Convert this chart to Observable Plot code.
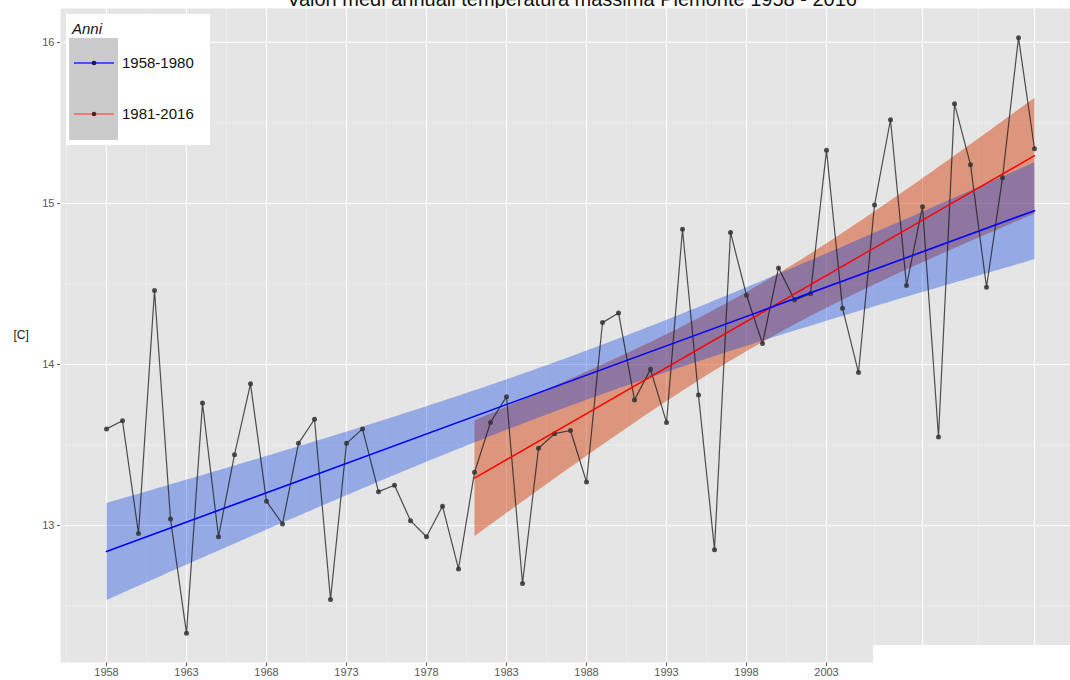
<!DOCTYPE html>
<html>
<head>
<meta charset="utf-8">
<script src="https://cdn.jsdelivr.net/npm/d3@7"></script>
<script src="https://cdn.jsdelivr.net/npm/@observablehq/plot@0.6"></script>
<style>
  html, body { margin: 0; padding: 0; background: #fff; overflow: hidden; }
  #wrap { position: relative; width: 1070px; height: 680px; font-family: "Liberation Sans", Arial, sans-serif; }
  #title { height: 8px; overflow: hidden; position: relative; }
  #title span { position: absolute; top: -11px; left: 0; width: 1144px; text-align: center; font-size: 20px; line-height: 20px; color: #111; white-space: nowrap; }
  #legend { position: absolute; left: 66px; top: 14px; width: 144px; height: 131px; background: #fff; }
  #legend .ttl { position: absolute; left: 6px; top: 6px; font-size: 15px; font-style: italic; color: #111; }
  #legend .keybg { position: absolute; left: 3px; top: 24px; width: 49px; height: 102px; background: #cbcbcb; }
  #legend .lab { position: absolute; left: 56px; font-size: 15px; color: #111; line-height: 16px; }
  #cover { position: absolute; left: 873px; top: 645px; width: 197px; height: 35px; background: #fff; }
</style>
</head>
<body>
<div id="wrap">
  <div id="title"><span>Valori medi annuali temperatura massima  Piemonte 1958 - 2016</span></div>
  <div id="chart"></div>
  <div id="legend">
    <div class="ttl">Anni</div>
    <div class="keybg"></div>
    <svg width="144" height="131" style="position:absolute;left:0;top:0">
      <line x1="8" x2="48" y1="49" y2="49" stroke="#4d4dff" stroke-width="2"/>
      <circle cx="28" cy="49" r="2.3" fill="#1a1a55"/>
      <line x1="8" x2="48" y1="100" y2="100" stroke="#f07878" stroke-width="2"/>
      <circle cx="28" cy="100" r="2.3" fill="#552222"/>
    </svg>
    <div class="lab" style="top:41px">1958-1980</div>
    <div class="lab" style="top:92px">1981-2016</div>
  </div>
  <div id="cover"></div>
</div>
<script>
// ---- data ----
const years = [1958,1959,1960,1961,1962,1963,1964,1965,1966,1967,1968,1969,1970,1971,1972,1973,1974,1975,1976,1977,1978,1979,1980,
  1981,1982,1983,1984,1985,1986,1987,1988,1989,1990,1991,1992,1993,1994,1995,1996,1997,1998,1999,2000,2001,2002,2003,2004,2005,2006,2007,2008,2009,2010,2011,2012,2013,2014,2015,2016];
const temps = [13.60,13.65,12.95,14.46,13.04,12.33,13.76,12.93,13.44,13.88,13.15,13.01,13.51,13.66,12.54,13.51,13.60,13.21,13.25,13.03,12.93,13.12,12.73,
  13.33,13.64,13.80,12.64,13.48,13.57,13.59,13.27,14.26,14.32,13.78,13.97,13.64,14.84,13.81,12.85,14.82,14.43,14.13,14.60,14.40,14.44,15.33,14.35,13.95,14.99,15.52,14.49,14.98,13.55,15.62,15.24,14.48,15.16,16.03,15.34];
const splitYear = 1981;
const xBreaks = [1958,1963,1968,1973,1978,1983,1988,1993,1998,2003,2009,2016];
const xMinor = [1955.5,1960.5,1965.5,1970.5,1975.5,1980.5,1985.5,1990.5,1995.5,2000.5,2006,2012.5];
const yBreaks = [13,14,15,16];
const yMinor = [12.5,13.5,14.5,15.5];

const data = years.map((y, i) => ({year: y, temp: temps[i]}));
const recent = data.filter(d => d.year >= splitYear);

const chart = Plot.plot({
  width: 1070,
  height: 672,
  marginTop: 0,
  marginLeft: 60,
  marginRight: 0,
  marginBottom: 18,
  style: {fontFamily: "'Liberation Sans', Arial, sans-serif", fontSize: "11px", color: "#555", background: "transparent", overflow: "hidden"},
  x: {domain: [1955.125, 2018.25], ticks: xBreaks, tickFormat: "d", tickSize: 4, tickPadding: 2, label: null},
  y: {domain: [12.149, 16.211], ticks: yBreaks, tickFormat: "d", tickSize: 3, tickPadding: 3, label: null},
  marks: [
    Plot.frame({fill: "#e5e5e5", stroke: "none"}),
    Plot.ruleY(yMinor, {stroke: "#f2f2f2", strokeWidth: 0.6}),
    Plot.ruleX(xMinor, {stroke: "#f2f2f2", strokeWidth: 0.6}),
    Plot.ruleY(yBreaks, {stroke: "#ffffff", strokeWidth: 1.2}),
    Plot.ruleX(xBreaks, {stroke: "#ffffff", strokeWidth: 1.2}),
    Plot.linearRegressionY(recent, {x: "year", y: "temp", stroke: "none", fill: "rgb(211,71,21)", fillOpacity: 0.5, ci: 0.95}),
    Plot.linearRegressionY(data, {x: "year", y: "temp", stroke: "none", fill: "rgb(0,60,230)", fillOpacity: 0.35, ci: 0.95}),
    Plot.line(data, {x: "year", y: "temp", stroke: "#1a1a1a", strokeOpacity: 0.75, strokeWidth: 1.2}),
    Plot.dot(data, {x: "year", y: "temp", r: 2.5, fill: "#333", fillOpacity: 0.85, stroke: "none"}),
    Plot.linearRegressionY(recent, {x: "year", y: "temp", stroke: "#ff0000", strokeWidth: 1.4, ci: 0}),
    Plot.linearRegressionY(data, {x: "year", y: "temp", stroke: "#0000ff", strokeWidth: 1.6, ci: 0}),
    Plot.text(["[C]"], {frameAnchor: "left", dx: -47, textAnchor: "start", fontSize: 12, fill: "#1a1a1a"})
  ]
});
document.getElementById("chart").appendChild(chart);
</script>
</body>
</html>
